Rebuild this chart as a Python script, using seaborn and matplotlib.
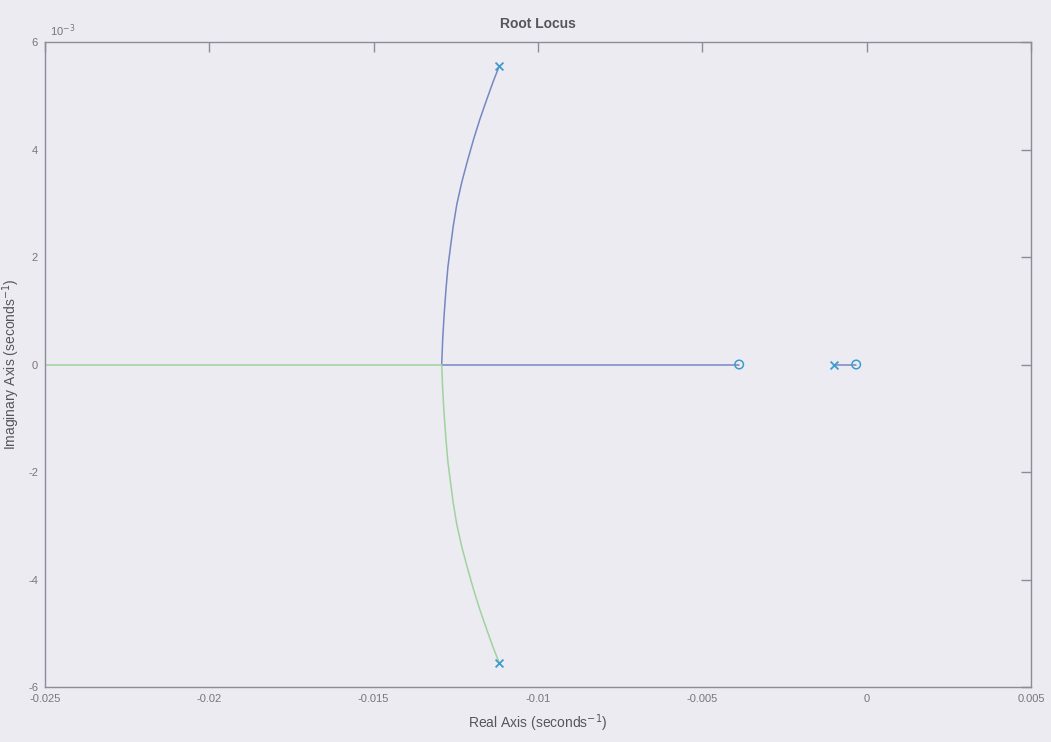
import matplotlib
matplotlib.use("Agg")
import matplotlib.pyplot as plt
import seaborn as sns
import pandas as pd
from matplotlib.ticker import FixedLocator

# --- data ---
upper_re = [-0.01118, -0.01136, -0.01156, -0.01177, -0.01196, -0.01215, -0.01232,
            -0.01247, -0.01258, -0.01266, -0.01274, -0.01280, -0.01286, -0.01290, -0.01293]
upper_im = [0.00555, 0.00527, 0.00493, 0.00456, 0.00419, 0.00378, 0.00339,
            0.00298, 0.00257, 0.00220, 0.00182, 0.00140, 0.00089, 0.00047, 0.0]
lower_re = [-0.01293, -0.01290, -0.01286, -0.01280, -0.01274, -0.01266, -0.01258,
            -0.01247, -0.01232, -0.01215, -0.01196, -0.01177, -0.01156, -0.01136, -0.01118]
lower_im = [0.0, -0.00047, -0.00089, -0.00140, -0.00182, -0.00220, -0.00257,
            -0.00298, -0.00339, -0.00378, -0.00419, -0.00456, -0.00493, -0.00527, -0.00555]
right_re = [-0.01293, -0.00388]
right_im = [0.0, 0.0]
left_re = [-0.01293, -0.025]
left_im = [0.0, 0.0]
short_re = [-0.00099, -0.00032]
short_im = [0.0, 0.0]
pole_re = [-0.01118, -0.01118, -0.00099]
pole_im = [0.00555, -0.00555, 0.0]
zero_re = [-0.00388, -0.00032]
zero_im = [0.0, 0.0]
x_ticks = [-0.025, -0.02, -0.015, -0.01, -0.005, 0, 0.005]
x_tick_labels = ["-0.025", "-0.02", "-0.015", "-0.01", "-0.005", "0", "0.005"]
y_ticks = [-0.006, -0.004, -0.002, 0, 0.002, 0.004, 0.006]
y_tick_labels = ["-6", "-4", "-2", "0", "2", "4", "6"]

sns.set_theme(style="white")
plt.rcParams['font.family'] = ['Liberation Sans', 'DejaVu Sans']

bg = "#ecebf2"
blue = "#7687c2"
green = "#9fd39c"
mk = "#3d9ccc"
axc = "#8c8c98"
txt = "#76767c"

fig = plt.figure(figsize=(10.51, 7.42), dpi=100, facecolor=bg)
ax = fig.add_axes([0.0428, 0.0741, 0.981 - 0.0428, 0.9434 - 0.0741])
ax.set_facecolor(bg)

def seg(xs, ys, color, lw=1.1):
    df = pd.DataFrame({"re": xs, "im": ys})
    sns.lineplot(data=df, x="re", y="im", sort=False, estimator=None,
                 color=color, lw=lw, ax=ax)

seg(left_re, left_im, green)
seg(right_re, right_im, blue)
seg(upper_re, upper_im, blue)
seg(lower_re, lower_im, green)
seg(short_re, short_im, blue)

sns.scatterplot(x=pole_re, y=pole_im, marker="x", s=32, color=mk,
                linewidth=1.3, ax=ax, zorder=5)
sns.scatterplot(x=zero_re, y=zero_im, marker="o", s=38, facecolor="none",
                edgecolor=mk, linewidth=1.1, ax=ax, zorder=5)

ax.set_xlim(-0.025, 0.005)
ax.set_ylim(-0.006, 0.006)
ax.xaxis.set_major_locator(FixedLocator(x_ticks))
ax.set_xticklabels(x_tick_labels)
ax.yaxis.set_major_locator(FixedLocator(y_ticks))
ax.set_yticklabels(y_tick_labels)

for s in ax.spines.values():
    s.set_color(axc)
    s.set_linewidth(1.0)
ax.tick_params(axis="both", direction="in", length=7, width=1.0, color=axc,
               labelcolor=txt, labelsize=8, top=True, right=True, pad=5)

ax.set_xlabel("Real Axis (seconds$^{-1}$)", color="#55555c", fontsize=10, labelpad=6)
ax.set_ylabel("Imaginary Axis (seconds$^{-1}$)", color="#55555c", fontsize=10, labelpad=4)
ax.set_title("Root Locus", color="#55555c", fontsize=10, fontweight="bold", pad=10)
ax.text(0.005, 1.005, "10$^{-3}$", transform=ax.transAxes, color=txt, fontsize=8,
        ha="left", va="bottom")

fig.savefig("out.png", dpi=100, facecolor=bg)
